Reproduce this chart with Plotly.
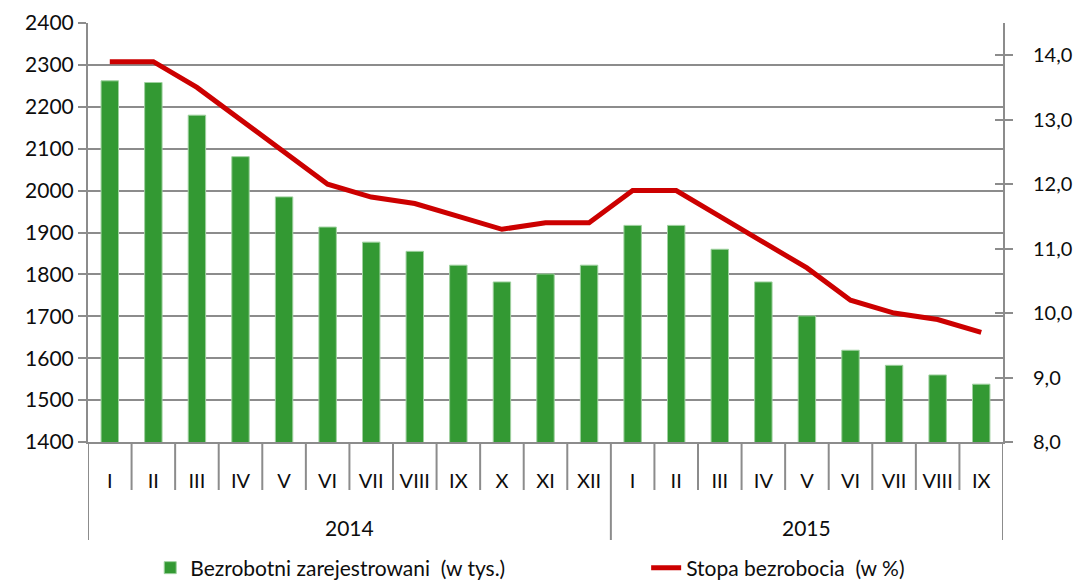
import plotly.graph_objects as go

months = ["I", "II", "III", "IV", "V", "VI", "VII", "VIII", "IX", "X", "XI", "XII",
          "I", "II", "III", "IV", "V", "VI", "VII", "VIII", "IX"]
years = ["2014"] * 12 + ["2015"] * 9
unemployed = [2262, 2258, 2180, 2081, 1985, 1913, 1877, 1855, 1822, 1782, 1801, 1822,
              1917, 1917, 1860, 1782, 1701, 1619, 1583, 1560, 1538]
rate = [13.9, 13.9, 13.5, 13.0, 12.5, 12.0, 11.8, 11.7, 11.5, 11.3, 11.4, 11.4,
        11.9, 11.9, 11.5, 11.1, 10.7, 10.2, 10.0, 9.9, 9.7]

left_ticks = list(range(1400, 2401, 100))
right_ticks = [8, 9, 10, 11, 12, 13, 14]

FONT = "Lato"
GRID = "#8c8c8c"
TXT = "#0d0d0d"

idx = list(range(len(months)))

fig = go.Figure()
fig.add_trace(go.Bar(
    x=idx, y=unemployed,
    name="Bezrobotni zarejestrowani  (w tys.)",
    marker=dict(color="#339933", line=dict(color="#9fd19f", width=1)),
    yaxis="y", legend="legend",
))
fig.add_trace(go.Scatter(
    x=idx, y=rate,
    name="Stopa bezrobocia  (w %)",
    mode="lines",
    line=dict(color="#cc0000", width=5),
    yaxis="y2", legend="legend2",
))
# invisible companion trace so the inner half of the right-axis ticks is drawn
fig.add_trace(go.Scatter(
    x=idx, y=rate, yaxis="y3", mode="lines", opacity=0,
    line=dict(width=0), showlegend=False, hoverinfo="skip",
))

# category separators below the x axis
shapes = []
year_bounds = []
for i in range(len(months) + 1):
    x = i - 0.5
    is_edge = i == 0 or i == len(months) or years[i] != years[i - 1]
    if is_edge:
        year_bounds.append(x)
    shapes.append(dict(type="line", xref="x", yref="paper",
                       x0=x, x1=x, y0=0, y1=-0.2339 if is_edge else -0.1146,
                       line=dict(color=GRID, width=2), layer="above"))

annotations = []
for a, b in zip(year_bounds[:-1], year_bounds[1:]):
    yr = years[int(a + 0.5)]
    annotations.append(dict(x=(a + b) / 2, xref="x", y=-0.203, yref="paper",
                            text=yr, showarrow=False, yanchor="middle",
                            font=dict(family=FONT, size=21, color=TXT)))

fig.update_layout(
    width=1075, height=581,
    margin=dict(l=88, r=72, t=23, b=139, autoexpand=False),
    paper_bgcolor="white", plot_bgcolor="white",
    separators=", ",
    font=dict(family=FONT, size=21, color=TXT),
    bargap=0.6,
    showlegend=True,
    shapes=shapes,
    annotations=annotations,
    legend=dict(orientation="h", x=0.068, xanchor="left", y=-0.3007, yanchor="middle",
                font=dict(family=FONT, size=21, color=TXT), bgcolor="rgba(0,0,0,0)"),
    legend2=dict(orientation="h", x=0.610, xanchor="left", y=-0.3007, yanchor="middle",
                 font=dict(family=FONT, size=21, color=TXT), bgcolor="rgba(0,0,0,0)"),
    xaxis=dict(
        range=[-0.5, len(months) - 0.5],
        tickvals=idx, ticktext=months,
        showgrid=False, zeroline=False, automargin=False,
        showline=True, linecolor=GRID, linewidth=2,
        ticks="", ticklabelstandoff=20,
        tickfont=dict(family=FONT, size=20, color=TXT),
    ),
    yaxis=dict(
        range=[1400, 2400], tickvals=left_ticks, tickformat="d",
        showgrid=True, gridcolor=GRID, gridwidth=2,
        showline=True, linecolor=GRID, linewidth=2,
        ticks="outside", ticklen=8, tickcolor=GRID, tickwidth=2,
        tickfont=dict(family=FONT, size=21, color=TXT),
        zeroline=False, automargin=False,
    ),
    yaxis2=dict(
        range=[8, 14.5], tickvals=right_ticks, tickformat=".1f",
        overlaying="y", side="right",
        showgrid=False,
        showline=True, linecolor=GRID, linewidth=2,
        ticks="outside", ticklen=8, tickcolor=GRID, tickwidth=2,
        ticklabelstandoff=16,
        tickfont=dict(family=FONT, size=20, color=TXT),
        zeroline=False, automargin=False,
    ),
    yaxis3=dict(
        range=[8, 14.5], tickvals=right_ticks,
        overlaying="y", side="right",
        showgrid=False, showline=False, showticklabels=False,
        ticks="inside", ticklen=8, tickcolor=GRID, tickwidth=2,
        zeroline=False, automargin=False,
    ),
)

fig.write_html("out.html", config={"displayModeBar": False},
               post_script="document.body.style.margin='0';")
